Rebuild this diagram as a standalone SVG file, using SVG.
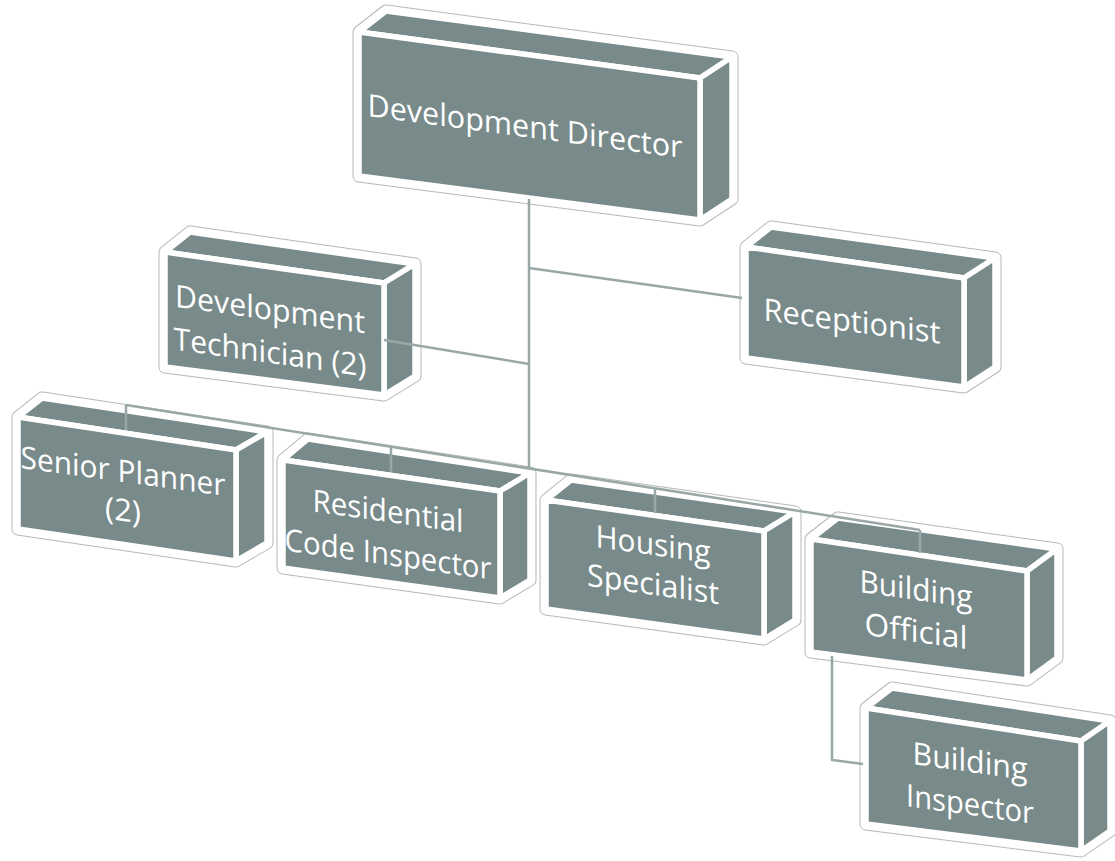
<svg xmlns="http://www.w3.org/2000/svg" width="1115" height="861" viewBox="0 0 1115 861">
<style>
.halo{fill:#fff;stroke:#b4b9b9;stroke-width:13;stroke-linejoin:round}
.halo2{fill:#fff;stroke:#fff;stroke-width:11;stroke-linejoin:round}
.face{fill:#788a8a;stroke:#fff;stroke-width:5.5;stroke-linejoin:round}
.lbl{font-family:"Open Sans","Noto Sans",sans-serif;font-size:31px;fill:#fff;text-anchor:middle}
.con{fill:none;stroke:#9aa7a7;stroke-width:2.5}
</style>
<rect width="1115" height="861" fill="#fff"/>
<g id="director">
<polygon class="halo" points="359,176 359,32 386,11 732,57 732,199 700,220"/>
<polygon class="halo2" points="359,176 359,32 386,11 732,57 732,199 700,220"/>
<polygon class="face" points="359,32 386,11 732,57 700,78"/>
<polygon class="face" points="700,78 732,57 732,199 700,220"/>
<polygon class="face" points="359,32 700,78 700,220 359,176"/>
<g transform="translate(525,0) skewY(7.6)"><text class="lbl" x="0" y="137" font-size="32" textLength="315" lengthAdjust="spacingAndGlyphs">Development Director</text></g>
</g>
<g id="devtech">
<polygon class="halo" points="165,367 165,252 190,232 415,264 415,376 384,395"/>
<polygon class="halo2" points="165,367 165,252 190,232 415,264 415,376 384,395"/>
<polygon class="face" points="165,252 190,232 415,264 384,283"/>
<polygon class="face" points="384,283 415,264 415,376 384,395"/>
<polygon class="face" points="165,252 384,283 384,395 165,367"/>
<g transform="translate(270,0) skewY(8)"><text class="lbl" x="0" y="320" textLength="190" lengthAdjust="spacingAndGlyphs">Development</text><text class="lbl" x="0" y="363" textLength="193" lengthAdjust="spacingAndGlyphs">Technician (2)</text></g>
</g>
<g id="receptionist">
<polygon class="halo" points="746,358 746,247 771,227 995,258 995,367 964,387"/>
<polygon class="halo2" points="746,358 746,247 771,227 995,258 995,367 964,387"/>
<polygon class="face" points="746,247 771,227 995,258 964,278"/>
<polygon class="face" points="964,278 995,258 995,367 964,387"/>
<polygon class="face" points="746,247 964,278 964,387 746,358"/>
<g transform="translate(852,0) skewY(7.5)"><text class="lbl" x="0" y="332" font-size="29" textLength="177" lengthAdjust="spacingAndGlyphs">Receptionist</text></g>
</g>
<g id="senior-planner">
<polygon class="halo" points="18,529 18,417 42,398 267,432 267,543 236,561"/>
<polygon class="halo2" points="18,529 18,417 42,398 267,432 267,543 236,561"/>
<polygon class="face" points="18,417 42,398 267,432 236,450"/>
<polygon class="face" points="236,450 267,432 267,543 236,561"/>
<polygon class="face" points="18,417 236,450 236,561 18,529"/>
<g transform="translate(123,0) skewY(7.8)"><text class="lbl" x="0" y="482" font-size="34" textLength="205" lengthAdjust="spacingAndGlyphs">Senior Planner</text><text class="lbl" x="0" y="521" font-size="33">(2)</text></g>
</g>
<g id="residential">
<polygon class="halo" points="283,568 283,460 308,439 530,473 530,580 500,598"/>
<polygon class="halo2" points="283,568 283,460 308,439 530,473 530,580 500,598"/>
<polygon class="face" points="283,460 308,439 530,473 500,491"/>
<polygon class="face" points="500,491 530,473 530,580 500,598"/>
<polygon class="face" points="283,460 500,491 500,598 283,568"/>
<g transform="translate(388,0) skewY(8)"><text class="lbl" x="0" y="522" font-size="32" textLength="151" lengthAdjust="spacingAndGlyphs">Residential</text><text class="lbl" x="0" y="565" font-size="32" textLength="207" lengthAdjust="spacingAndGlyphs">Code Inspector</text></g>
</g>
<g id="housing">
<polygon class="halo" points="546,609 546,500 571,480 795,512 795,620 764,639"/>
<polygon class="halo2" points="546,609 546,500 571,480 795,512 795,620 764,639"/>
<polygon class="face" points="546,500 571,480 795,512 764,531"/>
<polygon class="face" points="764,531 795,512 795,620 764,639"/>
<polygon class="face" points="546,500 764,531 764,639 546,609"/>
<g transform="translate(653,0) skewY(8)"><text class="lbl" x="0" y="555" textLength="115" lengthAdjust="spacingAndGlyphs">Housing</text><text class="lbl" x="0" y="595" textLength="132" lengthAdjust="spacingAndGlyphs">Specialist</text></g>
</g>
<g id="building-official">
<polygon class="halo" points="811,652 811,539 838,518 1057,549 1057,658 1027,680"/>
<polygon class="halo2" points="811,652 811,539 838,518 1057,549 1057,658 1027,680"/>
<polygon class="face" points="811,539 838,518 1057,549 1027,571"/>
<polygon class="face" points="1027,571 1057,549 1057,658 1027,680"/>
<polygon class="face" points="811,539 1027,571 1027,680 811,652"/>
<g transform="translate(916,0) skewY(8)"><text class="lbl" x="0" y="600" textLength="113" lengthAdjust="spacingAndGlyphs">Building</text><text class="lbl" x="0" y="642" textLength="103" lengthAdjust="spacingAndGlyphs">Official</text></g>
</g>
<g id="building-inspector">
<polygon class="halo" points="866,824 866,708 892,688 1110,721 1110,831 1081,851"/>
<polygon class="halo2" points="866,824 866,708 892,688 1110,721 1110,831 1081,851"/>
<polygon class="face" points="866,708 892,688 1110,721 1081,741"/>
<polygon class="face" points="1081,741 1110,721 1110,831 1081,851"/>
<polygon class="face" points="866,708 1081,741 1081,851 866,824"/>
<g transform="translate(970,0) skewY(8)"><text class="lbl" x="0" y="772" font-size="32" textLength="115" lengthAdjust="spacingAndGlyphs">Building</text><text class="lbl" x="0" y="815" font-size="32" textLength="128" lengthAdjust="spacingAndGlyphs">Inspector</text></g>
</g>
<g id="connectors">
<path class="con" d="M529,199 V467"/>
<path class="con" d="M529,268 L742,298"/>
<path class="con" d="M384,340 L529,364"/>
<path class="con" d="M126,405 L920,530"/>
<path class="con" d="M126,405 V430 M391,447 V472 M655,488 V513 M920,530 V553"/>
<path class="con" d="M832,656 V760 L863,764"/>
</g>
</svg>
